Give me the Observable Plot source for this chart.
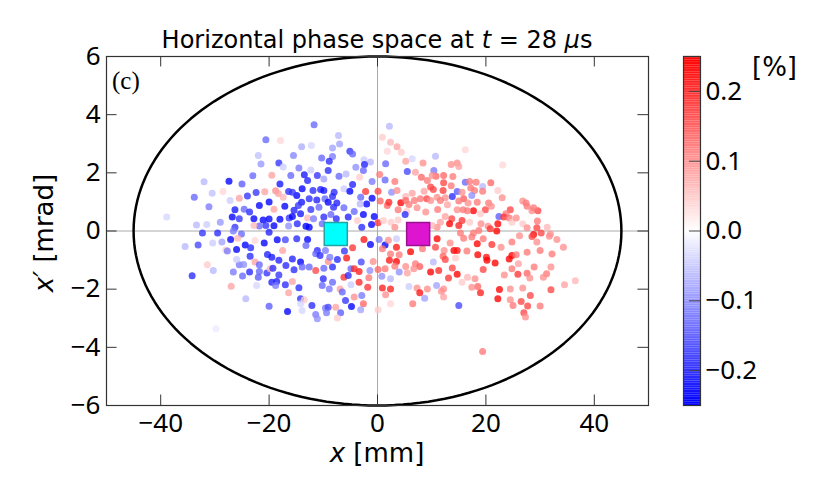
<!DOCTYPE html>
<html><head><meta charset="utf-8">
<script src="https://cdn.jsdelivr.net/npm/d3@7"></script>
<script src="https://cdn.jsdelivr.net/npm/@observablehq/plot@0.6"></script>
<style>
body{margin:0;background:#fff;font-family:"DejaVu Sans",sans-serif;color:#000;}
#wrap{position:relative;width:830px;height:498px;overflow:hidden;}
#main,#cbar{position:absolute;top:0;}
#main{left:0;} #cbar{left:660px;}
.t{position:absolute;white-space:nowrap;line-height:1;}
#title{top:28px;left:106px;width:542px;text-align:center;font-size:24px;}
#panel{top:68px;left:112px;font-family:"Liberation Serif",serif;font-size:25px;}
#xlab{top:440px;left:106px;width:542px;text-align:center;font-size:26px;}
#ylab{left:44px;top:233px;font-size:26px;transform:translate(-50%,-50%) rotate(-90deg);}
#unit{left:752px;top:54px;font-size:26px;}
</style></head><body>
<div id="wrap">
<div id="main"></div><div id="cbar"></div>
<div class="t" id="title">Horizontal phase space at <i>t</i> = 28 <i>μ</i>s</div>
<div class="t" id="panel">(c)</div>
<div class="t" id="xlab"><i>x</i> [mm]</div>
<div class="t" id="ylab"><i>x′</i> [mrad]</div>
<div class="t" id="unit">[%]</div>
</div>
<script>
// particles: [x (mm), x' (mrad), momentum offset (%)]
const regionUL = [[-20.6,3.14,-0.15],[-17.9,3.11,0.04],[-18.2,2.34,-0.2],[-17.4,2.2,-0.05],[-19.5,1.92,0.09],[-18.0,1.62,-0.23],[-27.4,1.71,-0.25],[-25.0,1.62,-0.16],[-32.0,1.69,-0.07],[-33.8,1.16,-0.15],[-31.1,0.83,-0.13],[-38.9,0.48,-0.04],[-28.5,1.36,0.04],[-27.2,1.05,-0.05],[-25.5,1.13,0.09],[-22.4,1.32,-0.2],[-20.8,1.35,0.09],[-18.8,1.38,0.11],[-18.3,1.29,0.09],[-17.4,1.16,0.07],[-16.4,1.36,-0.21],[-20.0,1.0,-0.25],[-21.8,0.88,-0.25],[-19.1,0.75,0.09],[-17.1,0.85,-0.25],[-26.3,0.73,-0.23],[-24.6,0.75,-0.15],[-23.6,0.65,-0.21],[-26.8,0.48,-0.25],[-25.5,0.42,-0.2],[-22.8,0.42,-0.25],[-21.1,0.38,-0.25],[-20.0,0.41,-0.25],[-18.0,0.40,-0.25],[-19.1,0.18,-0.25],[-20.6,0.19,-0.2],[-21.8,0.17,-0.15],[-22.8,0.19,0.07],[-26.3,0.13,-0.2],[-16.3,0.45,-0.2],[-16.4,0.17,-0.11],[-33.4,0.21,-0.07],[-31.5,0.22,-0.05],[-32.3,-0.07,-0.2],[-29.5,-0.07,-0.21],[-26.6,0.0,-0.13],[-25.1,-0.1,-0.15],[-20.0,-0.04,-0.22],[-23.0,1.9,-0.15],[-21.5,2.3,-0.1],[-24.0,1.2,-0.2],[-15.5,2.6,-0.12],[-14.0,2.9,-0.08],[-22.0,2.6,-0.06],[-29.0,0.3,-0.1],[-30.5,1.3,-0.06],[-17.0,-0.3,-0.18]];
const regionLL = [[-35.5,-0.53,-0.07],[-33.1,-0.48,-0.18],[-34.2,-1.54,-0.21],[-31.4,-1.16,0.05],[-30.3,-1.36,-0.07],[-27.1,-0.29,-0.25],[-25.8,-0.25,0.07],[-24.4,-0.48,-0.25],[-26.0,-0.64,-0.25],[-23.4,-0.58,-0.21],[-28.0,-0.65,0.05],[-27.7,-0.69,-0.13],[-28.7,-0.38,-0.09],[-30.4,-0.41,-0.05],[-22.6,-0.33,0.04],[-20.9,-0.41,-0.25],[-18.5,-0.3,-0.25],[-17.5,-0.67,0.09],[-23.5,-0.87,-0.21],[-20.3,-0.81,-0.22],[-19.5,-0.9,-0.23],[-18.2,-1.01,-0.22],[-16.9,-1.19,-0.21],[-22.6,-1.07,0.09],[-21.8,-1.16,-0.15],[-25.5,-1.16,-0.13],[-24.7,-1.15,-0.11],[-26.6,-1.41,-0.13],[-24.9,-1.55,-0.15],[-23.6,-1.41,-0.21],[-21.8,-1.39,-0.15],[-20.4,-1.44,-0.2],[-22.0,-1.59,-0.16],[-19.8,-1.3,0.07],[-19.3,-1.28,-0.21],[-18.2,-1.51,-0.2],[-19.5,-1.76,-0.22],[-18.6,-1.74,-0.22],[-18.8,-1.87,-0.13],[-17.0,-1.85,-0.21],[-16.4,-2.12,0.09],[-27.0,-1.9,0.09],[-22.3,-1.87,-0.04],[-24.3,-2.33,-0.07],[-20.0,-2.59,-0.16],[-16.6,-2.77,-0.25],[-29.8,-3.36,-0.02],[-26.0,-0.98,-0.05]];
const regionUC = [[-11.7,3.65,-0.15],[2.2,3.6,-0.07],[-7.2,3.28,-0.07],[-12.2,2.94,-0.04],[-7.0,2.99,-0.09],[-8.3,2.85,-0.09],[0.9,3.22,0.05],[2.4,3.05,0.07],[3.6,2.9,0.09],[1.8,2.74,0.04],[4.4,2.71,0.05],[-5.1,2.74,-0.2],[-4.6,2.65,-0.15],[-8.3,2.56,-0.13],[-10.3,2.51,-0.15],[-8.9,2.4,-0.21],[-2.5,2.45,-0.05],[-1.3,2.37,-0.07],[-2.4,2.29,-0.22],[-4.0,2.19,-0.11],[1.5,2.31,-0.15],[5.2,2.4,0.09],[8.4,2.34,0.11],[6.4,2.48,-0.04],[-14.5,2.17,-0.13],[-12.3,2.1,-0.05],[-9.1,2.08,-0.21],[-16,1.91,-0.15],[-13.5,1.93,-0.23],[-12.9,1.74,-0.22],[-11.1,1.91,-0.2],[-9.9,1.79,-0.09],[-7.1,1.88,-0.15],[-5.8,1.96,-0.07],[-2.6,2.08,-0.15],[-3.3,1.85,0.05],[-1.0,1.7,-0.13],[0.4,1.94,0.13],[1.4,1.75,-0.15],[3.2,1.7,0.13],[5.5,2.05,-0.18],[7.0,2.02,0.09],[8.1,1.85,0.15],[9.2,1.74,0.13],[-4.6,1.6,-0.22],[-6.2,1.45,-0.05],[-8.0,1.33,-0.21],[-13.9,1.45,-0.25],[-11.9,1.39,-0.21],[-10.5,1.43,-0.22],[-9.9,1.39,-0.23],[-5.1,1.37,-0.25],[-3.1,1.16,-0.15],[-2.2,1.36,0.2],[0.1,1.37,0.18],[2.6,1.33,-0.11],[3.6,1.39,0.11],[5.2,1.19,0.07],[6.4,1.3,0.09],[8.6,1.37,0.09],[-14.9,1.22,-0.25],[-15.7,1.33,-0.2],[-12.6,1.11,-0.21],[-11.2,1.07,-0.22],[-14.0,0.99,-0.23],[-9.7,1.11,-0.15],[-8.3,1.19,-0.21],[-7.5,0.96,-0.22],[-9.1,0.99,-0.25],[-1.0,1.13,-0.25],[-2.0,0.93,-0.25],[0.5,1.03,0.15],[1.8,0.88,0.15],[2.1,0.99,0.21],[4.3,0.97,0.25],[5.2,1.05,0.15],[5.8,0.91,0.13],[6.8,1.05,0.13],[7.9,1.11,0.13],[9.1,1.11,0.18],[7.3,0.8,0.11],[8.9,0.65,0.11],[3.8,0.73,0.13],[5.4,0.68,0.05],[-14.6,0.88,-0.2],[-15.4,0.71,-0.22],[-12.3,0.74,-0.2],[-10.8,0.82,-0.15],[-8.1,0.82,-0.21],[-6.2,0.8,-0.15],[-3.2,0.93,-0.07],[-4.3,0.67,-0.15],[-15.7,0.5,-0.25],[-14.2,0.59,-0.23],[-12.9,0.45,0.07],[-11.8,0.42,-0.13],[-9.9,0.48,-0.21],[-8.6,0.57,-0.15],[-7.6,0.42,-0.21],[-5.4,0.48,-0.22],[-2.6,0.57,-0.25],[-3.7,0.36,0.05],[-0.6,0.5,-0.25],[0.1,0.28,0.2],[1.1,0.36,0.05],[2.5,0.3,0.05],[3.8,0.38,0.05],[5.1,0.57,-0.21],[3.2,0.13,0.11],[-14.8,0.25,-0.21],[-13.2,0.16,-0.25],[-12.6,0.13,-0.25],[-10.2,0.25,-0.15],[-2.9,0.13,-0.21],[-1.1,0.22,-0.25]];
const regionLC = [[-14.9,-0.27,-0.21],[-12.9,-0.29,-0.25],[-13.2,-0.5,-0.15],[-11.1,-0.67,-0.21],[-11.4,-0.78,-0.15],[-9.6,-0.67,-0.13],[-10.6,-0.84,-0.21],[-15.7,-0.96,-0.22],[-14.2,-1.07,-0.25],[-15.4,-1.33,-0.21],[-13.9,-1.24,-0.15],[-12.6,-1.24,-0.15],[-11.4,-1.36,0.18],[-9.9,-1.28,-0.15],[-8.3,-1.24,-0.21],[-7.4,-0.98,-0.21],[-9.1,-1.05,0.11],[-8.8,-0.9,-0.13],[-6.1,-0.69,-0.2],[-4.6,-0.58,0.2],[-2.5,-0.29,0.23],[-1.3,-0.46,-0.25],[-5.7,-0.93,0.23],[-4.9,-1.3,-0.15],[-4.3,-1.3,0.21],[-3.4,-1.39,0.22],[-3.0,-1.07,-0.18],[-1.4,-1.36,-0.11],[-0.8,-1.05,0.11],[0.1,-1.32,0.15],[-6.2,-1.59,0.2],[-5.4,-1.53,-0.21],[-3.4,-1.76,0.21],[-1.8,-1.93,0.2],[-1.6,-1.61,0.13],[-10.0,-1.64,-0.21],[-8.3,-1.76,-0.15],[-14.5,-1.95,-0.21],[-15.7,-1.74,0.09],[-10.2,-1.87,-0.15],[-8.9,-1.99,-0.13],[-6.9,-1.99,0.09],[-6.5,-2.1,-0.15],[-4.9,-1.85,-0.05],[-4.3,-2.27,0.11],[-2.9,-2.22,-0.13],[-14.2,-2.33,-0.2],[-13.5,-2.36,0.05],[-14.2,-2.5,-0.04],[-12.1,-2.56,-0.21],[-9.6,-2.65,-0.13],[-9.1,-2.62,-0.18],[-7.7,-2.62,0.09],[-5.9,-2.39,-0.2],[-4.8,-2.6,-0.25],[-2.6,-2.5,0.15],[-3.1,-2.71,-0.09],[-6.8,-2.81,-0.16],[0.1,-2.71,0.05],[-13.9,-2.73,-0.04],[-11.4,-2.87,-0.13],[-11.1,-3.02,-0.11],[-9.4,-2.81,-0.13],[-7.4,-2.99,0.05],[0.3,-0.29,-0.13],[1.4,-0.48,-0.25],[2.0,-0.32,0.11],[3.5,-0.56,0.23],[3.5,-0.27,-0.05],[0.9,-0.61,0.13],[2.4,-0.79,0.13],[4.0,-0.82,0.13],[2.2,-1.01,0.23],[3.5,-1.05,0.25],[1.4,-1.3,0.13],[3.2,-1.21,0.13],[0.8,-1.56,-0.11],[2.4,-1.64,-0.07],[4.0,-1.41,-0.11],[5.2,-1.22,0.11],[6.1,-0.71,0.25],[7.3,-0.27,0.11],[8.3,-0.61,0.13],[7.0,-1.13,0.13],[7.8,-1.22,0.16],[6.7,-1.3,0.11],[5.5,-1.44,0.09],[0.9,-1.96,0.22],[2.4,-1.99,0.22],[1.5,-2.19,0.11],[5.8,-1.91,-0.05],[7.3,-1.96,0.11],[9.2,-1.99,0.11],[7.8,-2.12,0.23],[8.7,-2.31,-0.09],[6.5,-2.5,0.13],[2.4,-2.5,0.04],[9.8,-1.41,0.25]];
const regionUR = [[10.7,2.57,-0.07],[16.2,2.79,0.04],[23.1,2.27,0.04],[13.6,2.29,0.11],[14.7,2.34,0.11],[15.0,2.22,0.09],[10.4,2.08,-0.13],[10.8,1.88,0.15],[12.2,1.91,0.15],[13.9,1.87,0.13],[9.8,1.51,0.18],[12.2,1.66,0.18],[13.6,1.56,0.13],[16.2,1.68,-0.15],[17.0,1.7,0.13],[18.2,1.68,0.13],[19.4,1.53,-0.07],[20.9,1.66,0.15],[22.2,1.39,0.05],[10.3,1.43,0.18],[12.1,1.39,0.19],[14.7,1.36,-0.16],[15.6,1.33,0.11],[17.2,1.48,0.13],[17.9,1.39,0.13],[19.4,1.37,0.13],[11.0,1.16,0.11],[12.5,1.14,0.11],[13.8,1.19,-0.21],[15.9,1.11,0.16],[17.4,1.22,-0.11],[18.4,0.99,0.13],[20.5,0.96,0.13],[21.0,0.85,0.11],[23.0,1.14,0.11],[11.6,1.05,0.13],[9.8,1.05,0.11],[12.9,0.9,0.09],[15.0,1.03,0.13],[16.7,0.96,0.11],[11.1,0.74,0.13],[14.7,0.73,0.11],[15.8,0.73,0.13],[17.7,0.7,0.25],[16.6,0.7,0.13],[19.9,0.73,0.18],[19.0,0.59,0.05],[24.5,0.73,0.18],[23.7,0.59,0.13],[22.4,0.5,-0.16],[23.3,0.48,0.2],[24.3,0.45,0.13],[27.6,0.85,0.13],[28.5,0.7,0.11],[29.6,0.7,0.18],[26.8,1.03,0.11],[27.4,0.96,0.13],[12.5,0.5,0.09],[13.7,0.42,0.18],[15.6,0.36,0.2],[13.3,0.25,0.25],[15.0,0.19,0.22],[17.0,0.3,0.05],[19.1,0.25,0.11],[20.4,0.16,0.11],[22.2,0.25,0.25],[24.8,0.3,0.05],[25.6,0.45,0.11],[29.5,0.34,0.13],[26.8,0.25,0.05],[27.6,0.11,0.11],[29.4,0.11,0.18],[31.3,0.13,0.07],[31.9,-0.1,0.11],[30.2,-0.07,0.18],[28.8,-0.12,0.25],[22.0,0.0,0.25],[20.8,0.08,0.2],[18.7,0.02,0.13],[17.7,-0.07,0.13],[15.3,-0.07,0.13],[11.0,0.13,0.11],[11.6,0.3,0.09],[10.1,0.19,0.07],[10.1,1.91,0.11],[28.8,0.8,0.13]];
const regionLR = [[11.0,-0.27,0.25],[13.4,-0.41,0.11],[15.9,-0.25,0.13],[17.4,-0.21,0.13],[18.4,-0.44,0.25],[19.5,-0.27,0.13],[21.1,-0.46,0.2],[22.8,-0.56,0.11],[24.8,-0.38,0.13],[26.2,-0.16,0.11],[28.5,-0.19,0.18],[29.4,-0.38,0.11],[33.1,-0.29,0.11],[10.7,-0.56,0.18],[12.3,-0.67,0.11],[14.1,-0.67,0.25],[14.7,-0.67,0.23],[16.5,-0.69,0.13],[18.5,-0.82,0.25],[20.1,-0.9,0.23],[20.2,-1.01,0.25],[21.7,-1.1,0.25],[24.3,-0.96,0.25],[24.8,-0.84,0.25],[25.6,-0.82,0.13],[27.6,-0.73,0.13],[30.0,-0.67,0.13],[32.2,-0.79,0.13],[34.3,-0.56,0.11],[12.1,-0.87,0.15],[12.5,-0.98,0.18],[14.4,-0.93,0.05],[10.3,-1.07,-0.07],[13.8,-1.27,0.18],[11.3,-1.36,0.21],[13.1,-1.62,0.2],[14.7,-1.49,0.25],[10.9,-1.87,-0.09],[12.2,-1.99,0.11],[12.2,-2.27,0.09],[16.6,-1.59,0.07],[18.0,-1.64,0.11],[18.5,-1.91,0.15],[19.0,-2.12,0.22],[19.5,-1.32,0.18],[23.4,-1.51,0.11],[24.8,-1.3,0.13],[26.0,-1.13,0.09],[25.9,-1.49,0.2],[27.6,-1.45,0.15],[28.9,-1.24,0.13],[28.1,-1.62,0.11],[31.2,-1.47,0.13],[30.6,-1.59,0.11],[32.0,-2.02,0.18],[34.5,-1.85,0.09],[22.5,-2.01,0.25],[22.2,-2.33,0.25],[24.5,-1.99,0.11],[26.8,-1.96,0.11],[28.2,-2.22,0.18],[24.5,-2.36,0.11],[26.5,-2.42,0.18],[25.0,-2.56,0.13],[27.7,-2.58,0.18],[30.0,-2.58,0.13],[27.0,-2.81,0.18],[27.3,-2.96,0.11],[15.0,-2.56,-0.18],[19.4,-4.14,0.13],[17.4,-1.93,0.11],[15.6,-1.76,0.05],[31.7,-0.18,0.11],[32.0,-1.24,0.11],[36.5,-1.71,0.07],[11.8,-2.07,0.11]];
const centroids = [[-7.7,-0.1,"#00ffff","#1fa5a5"],[7.5,-0.1,"#dd14d0","#9a128f"]];
const xTicks = [-40,-20,0,20,40];
const yTicks = [-6,-4,-2,0,2,4,6];
const cbTicks = [-0.2,-0.1,0.0,0.1,0.2];
const acceptance = {a: 45, b: 6};

const particles = [...regionUL, ...regionLL, ...regionUC, ...regionLC, ...regionUR, ...regionLR];
const colorScale = {type:"linear", domain:[-0.25,0,0.25], range:["#0000ff","#ffffff","#ff0000"], interpolate:"rgb", clamp:true};
const minus = s => s.replace("-", "\u2212");
const ellipse = d3.range(0, 361, 2).map(t => [acceptance.a*Math.cos(t*Math.PI/180), acceptance.b*Math.sin(t*Math.PI/180)]);
const xTickLen = 0.36, yTickLen = 1.95;

const main = Plot.plot({
  width: 660, height: 498,
  marginLeft: 106, marginRight: 12, marginTop: 56, marginBottom: 93,
  x: {domain:[-50,50], axis:null},
  y: {domain:[-6,6], axis:null},
  color: colorScale,
  marks: [
    Plot.ruleX([0], {stroke:"#aaa", strokeWidth:1}),
    Plot.ruleY([0], {stroke:"#aaa", strokeWidth:1}),
    Plot.dot(particles, {x:d=>d[0], y:d=>d[1], fill:d=>d[2], r:3.5, fillOpacity:0.78}),
    Plot.line(ellipse, {x:d=>d[0], y:d=>d[1], stroke:"#000", strokeWidth:2.5}),
    Plot.dot(centroids, {x:d=>d[0], y:d=>d[1], symbol:"square", r:13, fill:d=>d[2], stroke:d=>d[3], strokeWidth:1.5}),
    Plot.ruleX(xTicks, {x:d=>d, y1:-6, y2:-6+xTickLen, stroke:"#333"}),
    Plot.ruleX(xTicks, {x:d=>d, y1:6, y2:6-xTickLen, stroke:"#333"}),
    Plot.ruleY(yTicks, {y:d=>d, x1:-50, x2:-50+yTickLen, stroke:"#333"}),
    Plot.ruleY(yTicks, {y:d=>d, x1:50, x2:50-yTickLen, stroke:"#333"}),
    Plot.frame({stroke:"#333", strokeWidth:1.2}),
    Plot.axisX(xTicks, {anchor:"bottom", tickSize:0, tickPadding:8, fontSize:26, tickFormat:d=>minus(String(d)), fill:"#000"}),
    Plot.axisY(yTicks, {anchor:"left", tickSize:0, tickPadding:6, fontSize:26, tickFormat:d=>minus(String(d)), fill:"#000"})
  ]
});
document.getElementById("main").append(main);

const bands = d3.range(-0.25, 0.25, 0.0025);
const cbar = Plot.plot({
  width: 170, height: 498,
  marginLeft: 23, marginRight: 130, marginTop: 56, marginBottom: 93,
  x: {domain:[0,1], axis:null},
  y: {domain:[-0.25,0.25], axis:null},
  color: colorScale,
  marks: [
    Plot.rect(bands, {x1:0, x2:1, y1:d=>d, y2:d=>d+0.0026, fill:d=>d+0.00125}),
    Plot.ruleY(cbTicks, {y:d=>d, x1:0.35, x2:1, stroke:"#444"}),
    Plot.frame({stroke:"#333", strokeWidth:1.2}),
    Plot.axisY(cbTicks, {anchor:"right", tickSize:0, tickPadding:5, fontSize:26, tickFormat:d=>minus(d.toFixed(1)), fill:"#000"})
  ]
});
document.getElementById("cbar").append(cbar);
</script>
</body></html>
